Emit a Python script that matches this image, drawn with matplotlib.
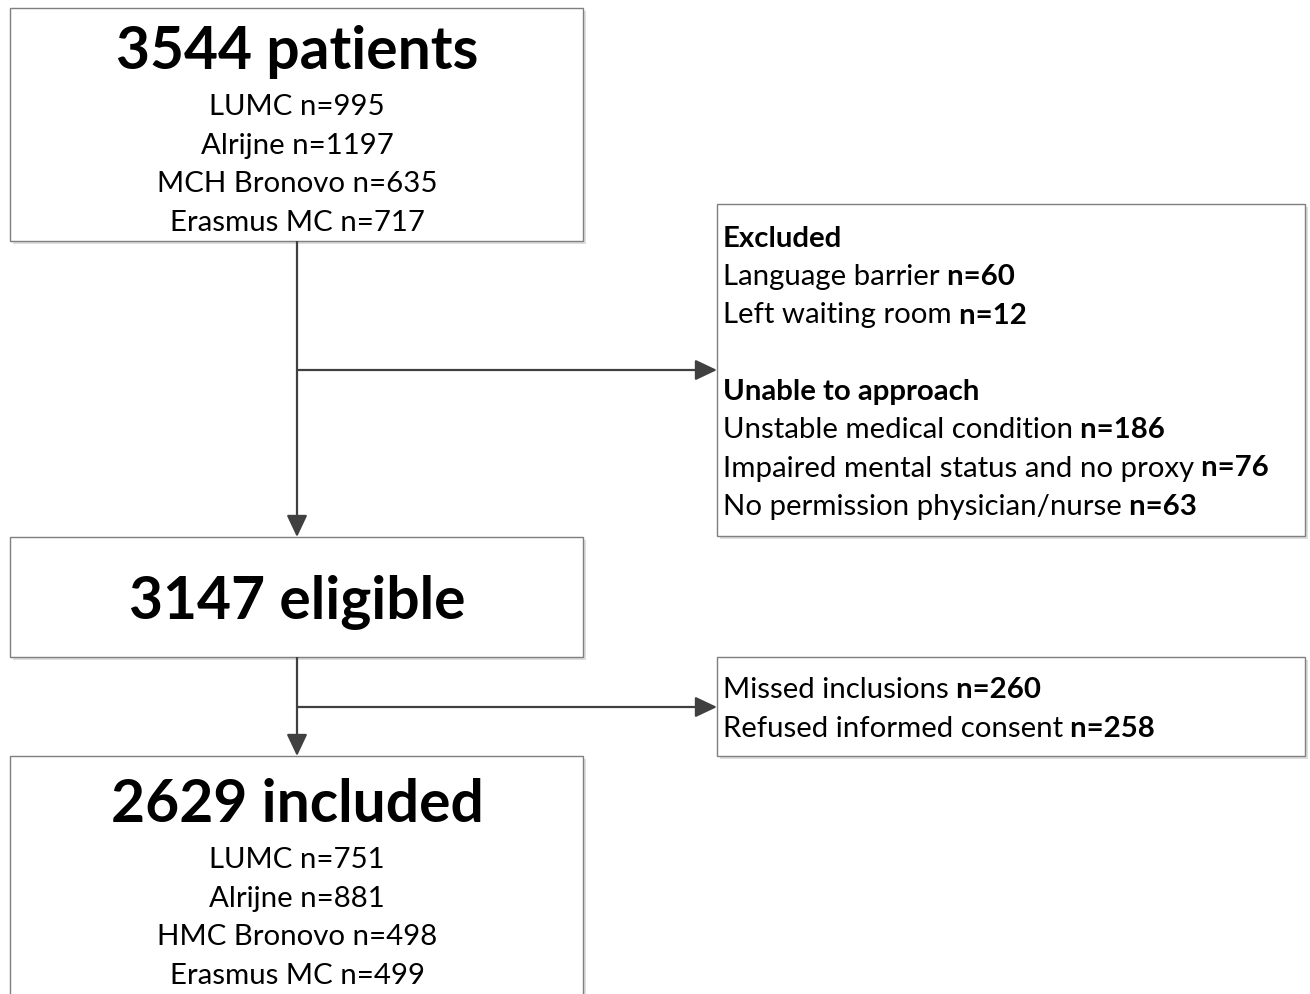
import matplotlib
matplotlib.use('Agg')
import matplotlib.pyplot as plt
from matplotlib.patches import Rectangle

plt.rcParams['font.family'] = ['Lato', 'DejaVu Sans']

# flow numbers
total = 3544
eligible = 3147
included = 2629

sites_screened = ['LUMC', 'Alrijne', 'MCH Bronovo', 'Erasmus MC']
n_screened = [995, 1197, 635, 717]
sites_included = ['LUMC', 'Alrijne', 'HMC Bronovo', 'Erasmus MC']
n_included = [751, 881, 498, 499]

excluded_reasons = ['Language barrier', 'Left waiting room']
n_excluded = [60, 12]
unable_reasons = ['Unstable medical condition',
                  'Impaired mental status and no proxy',
                  'No permission physician/nurse']
n_unable = [186, 76, 63]
lost_reasons = ['Missed inclusions', 'Refused informed consent']
n_lost = [260, 258]

BODY = 21.2
TITLE = 42.3
EDGE = '#7f7f7f'
ARROW = '#404040'
LW = 1.6

fig = plt.figure(figsize=(13.1, 9.95), dpi=100)
ax = fig.add_axes([0, 0, 1, 1])
ax.set_xlim(0, 1310)
ax.set_ylim(995, 0)
ax.axis('off')
renderer = fig.canvas.get_renderer()


def box(x0, y0, x1, y1):
    ax.add_patch(Rectangle((x0 + 3, y0 + 3), x1 - x0, y1 - y0,
                           fc='#dedede', ec='none', zorder=1))
    ax.add_patch(Rectangle((x0, y0), x1 - x0, y1 - y0,
                           fc='white', ec=EDGE, lw=1.0, zorder=2))


def arrow(x0, y0, x1, y1):
    ax.annotate('', xy=(x1, y1), xytext=(x0, y0),
                arrowprops=dict(arrowstyle='-|>,head_length=0.95,head_width=0.45',
                                color=ARROW, lw=LW, shrinkA=0, shrinkB=0,
                                mutation_scale=14),
                zorder=3)


def mixed(x, y, normal, bold):
    # normal text followed by a bold part on the same baseline
    t = ax.text(x, y, normal, fontsize=BODY, va='baseline', ha='left', zorder=4)
    bb = t.get_window_extent(renderer)
    xb = ax.transData.inverted().transform((bb.x1, bb.y0))[0]
    ax.text(xb, y, ' ' + bold, fontsize=BODY, fontweight='bold',
            va='baseline', ha='left', zorder=4)


# boxes
box(10, 9, 583, 242)
box(10, 538, 583, 658)
box(10, 757, 583, 1010)
box(717, 205, 1305, 537)
box(717, 658, 1305, 757)

# connectors
ax.plot([297, 297], [242, 371], color=ARROW, lw=LW, zorder=3,
        solid_capstyle='butt')
arrow(297, 371, 297, 538)
arrow(297, 371, 717, 371)
ax.plot([297, 297], [658, 708], color=ARROW, lw=LW, zorder=3,
        solid_capstyle='butt')
arrow(297, 708, 297, 757)
arrow(297, 708, 717, 708)

# left column
ax.text(297, 69, f'{total} patients', fontsize=TITLE, fontweight='bold',
        ha='center', va='baseline', zorder=4)
for i, (s, n) in enumerate(zip(sites_screened, n_screened)):
    ax.text(297, 115 + i * 38.6, f'{s} n={n}', fontsize=BODY,
            ha='center', va='baseline', zorder=4)

ax.text(297, 619, f'{eligible} eligible', fontsize=TITLE, fontweight='bold',
        ha='center', va='baseline', zorder=4)

ax.text(297, 822, f'{included} included', fontsize=TITLE, fontweight='bold',
        ha='center', va='baseline', zorder=4)
for i, (s, n) in enumerate(zip(sites_included, n_included)):
    ax.text(297, 868 + i * 38.6, f'{s} n={n}', fontsize=BODY,
            ha='center', va='baseline', zorder=4)

# right column
ax.text(723, 247, 'Excluded', fontsize=BODY, fontweight='bold',
        va='baseline', zorder=4)
for i, (r, n) in enumerate(zip(excluded_reasons, n_excluded)):
    mixed(723, 285 + i * 38.5, r, f'n={n}')

ax.text(723, 400, 'Unable to approach', fontsize=BODY, fontweight='bold',
        va='baseline', zorder=4)
for i, (r, n) in enumerate(zip(unable_reasons, n_unable)):
    mixed(723, 438 + i * 38.5, r, f'n={n}')

for i, (r, n) in enumerate(zip(lost_reasons, n_lost)):
    mixed(723, 698 + i * 38.6, r, f'n={n}')

fig.savefig('out.png', dpi=100, facecolor='white')
